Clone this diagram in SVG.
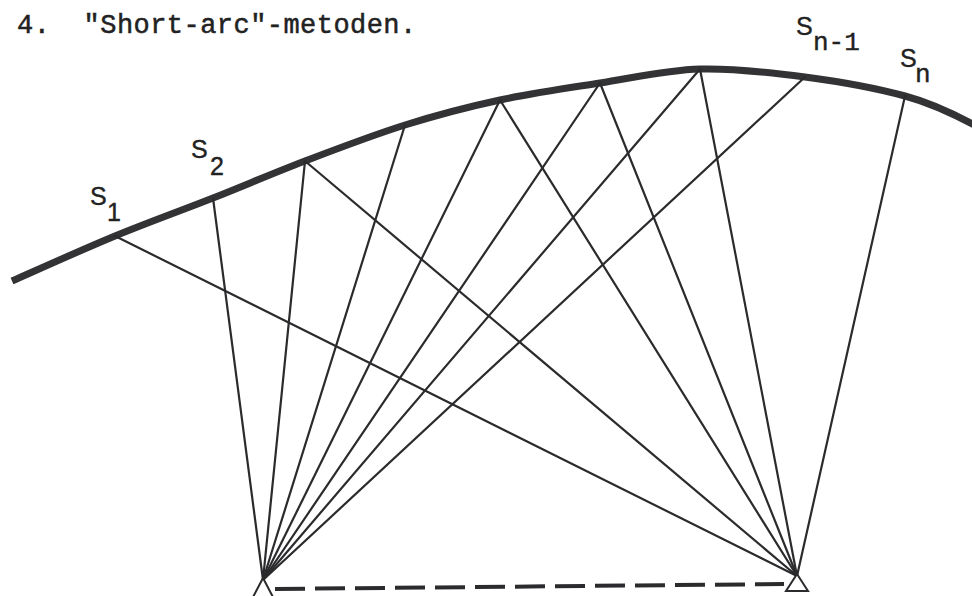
<svg xmlns="http://www.w3.org/2000/svg" width="972" height="596" viewBox="0 0 972 596">
<style>
.ray{stroke:#2b2b2e;stroke-width:2.2;fill:none;stroke-linecap:round}
.orbit{stroke:#333336;stroke-width:7;fill:none;stroke-linecap:butt}
.lbl{font-family:"Liberation Sans",Arial,sans-serif;font-size:25px;fill:#222;stroke:#222;stroke-width:0.4}
.sub{font-family:"Liberation Mono","Courier New",monospace;font-size:26px;fill:#222;stroke:#222;stroke-width:0.4}
.title{font-family:"Liberation Mono","Courier New",monospace;font-size:27px;fill:#222;letter-spacing:0.45px;stroke:#222;stroke-width:0.5}
.stn{stroke:#2b2b2e;stroke-width:2;fill:#fff}
</style>
<rect width="972" height="596" fill="#fff"/>
<text class="title" x="17" y="33" xml:space="preserve">4.  "Short-arc"-metoden.</text>
<g id="orbit">
<path class="orbit" d="M12,281 C29.2,273.5 81.5,249.8 115,236 C148.5,222.2 181.3,210.5 213,198 C244.7,185.5 273,173.2 305,161 C337,148.8 372.5,135.2 405,125 C437.5,114.8 467.5,107 500,100 C532.5,93 566.7,88.2 600,83 C633.3,77.8 665.8,70 700,69 C734.2,68 770.8,72.5 805,77 C839.2,81.5 877.2,88.5 905,96 C932.8,103.5 960.8,117.7 976,126"/>
</g>
<g id="connectors">
<line class="ray" x1="115" y1="236" x2="797" y2="576"/>
<line class="ray" x1="213" y1="198" x2="263" y2="580"/>
<line class="ray" x1="305" y1="161" x2="263" y2="580"/>
<line class="ray" x1="305" y1="161" x2="797" y2="576"/>
<line class="ray" x1="405" y1="125" x2="263" y2="580"/>
<line class="ray" x1="500" y1="100" x2="263" y2="580"/>
<line class="ray" x1="500" y1="100" x2="797" y2="576"/>
<line class="ray" x1="600" y1="83" x2="263" y2="580"/>
<line class="ray" x1="600" y1="83" x2="797" y2="576"/>
<line class="ray" x1="700" y1="69" x2="263" y2="580"/>
<line class="ray" x1="700" y1="69" x2="797" y2="576"/>
<line class="ray" x1="805" y1="77" x2="263" y2="580"/>
<line class="ray" x1="905" y1="96" x2="797" y2="576"/>
<line stroke="#2b2b2e" stroke-width="4" stroke-dasharray="30 10" x1="275" y1="589" x2="784" y2="584"/>
</g>
<g id="station-left">
<path class="stn" d="M263,578 L252,599 L274,599 Z"/>
</g>
<g id="station-right">
<path class="stn" d="M797,574 L786,591 L808,591 Z"/>
</g>
<g id="label-s1"><text class="lbl" x="90" y="205">S</text><text class="lbl" x="107" y="221">1</text></g>
<g id="label-s2"><text class="lbl" x="191" y="158">S</text><text class="lbl" x="210" y="175">2</text></g>
<g id="label-sn-1"><text class="lbl" x="796" y="35">S</text><text class="sub" x="813" y="50">n-1</text></g>
<g id="label-sn"><text class="lbl" x="900" y="67">S</text><text class="sub" x="915" y="82">n</text></g>
</svg>
